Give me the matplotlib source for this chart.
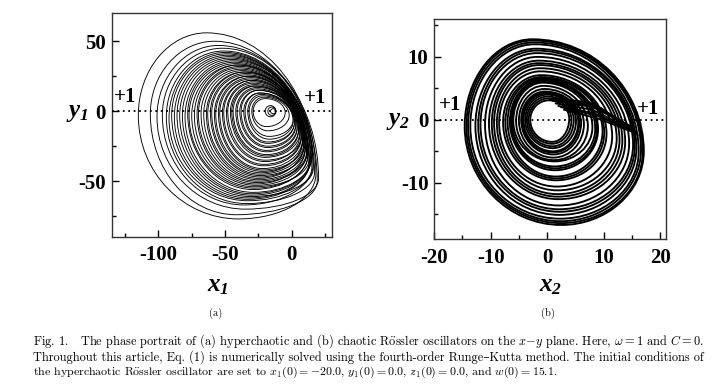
import matplotlib
matplotlib.use('Agg')
import matplotlib.pyplot as plt
from matplotlib.path import Path
from matplotlib.patches import PathPatch
from matplotlib.ticker import MultipleLocator
from matplotlib.font_manager import FontProperties

plt.rcParams['mathtext.fontset'] = 'custom'
plt.rcParams['mathtext.it'] = 'Liberation Serif:italic:bold'
plt.rcParams['mathtext.rm'] = 'Liberation Serif:italic:bold'
plt.rcParams['mathtext.bf'] = 'Liberation Serif:italic:bold'
plt.rcParams['axes.unicode_minus'] = False

# ---------------- data: panel (a) loops (extreme points) ----------------
a_left_x = [-115, -106, -101, -97, -94, -92, -90, -88, -86, -84, -82, -80, -78, -77, -75, -73,
            -71, -70, -68, -66, -64, -63, -61, -60, -58, -57, -55, -54, -52, -51, -49, -48,
            -46, -45, -44, -42, -41, -39, -38, -36, -35, -33, -32, -30, -29, -20, -18, -16]
a_left_y = [-3, -2, -4, -3, -4, -5, -3, -4, -3, -3, -3, -4, -2, -3, -3, -3,
            -2, -2, -2, -2, -2, -2, -1, -1, -2, -2, -1, -1, -1, -1, -1, 0,
            0, 0, 0, 0, 0, 0, 0, 0, 0, 0, 0, 0, 0, 0, 0, 0]
a_top_x = [-64, -58, -55, -52, -51, -50, -49, -48, -47, -46, -45, -44, -43, -42, -41, -40,
           -39, -39, -38, -37, -36, -35, -34, -34, -33, -32, -31, -31, -30, -30, -29, -29,
           -28, -28, -27, -26, -26, -25, -25, -24, -24, -23, -22, -21, -20, -16, -15, -14]
a_top_y = [56, 50, 47, 45, 43, 42, 41, 40, 39, 38, 37, 36, 35, 34, 33, 33,
           32, 31, 30, 29, 28, 28, 27, 26, 25, 25, 24, 23, 22, 22, 21, 20,
           19, 18, 18, 17, 16, 15, 15, 13, 13, 12, 11, 10, 9, 4, 3, 1.8]
a_right_x = [18, 19, 20, 16, 17, 15, 13, 14, 16, 13, 14, 15, 12, 12, 13, 11,
             10, 12, 11, 10, 9, 9, 10, 10, 8, 8, 9, 8, 7, 7, 6, 7,
             6, 5, 5, 4, 4, 3, 3, 2, 2, 1, 1, -2, -5, -12, -12, -12]
a_right_y = [-45, -50, -48, -38, -44, -40, -37, -35, -41, -36, -34, -33, -31, -32, -34, -30,
             -27, -28, -29, -27, -24, -25, -26, -22, -21, -22, -23, -20, -19, -18, -17, -18,
             -15, -14, -13, -12, -11, -10, -9, -8, -8, -7, -6, -3, -1, 0, 0, 0]
a_bot_x = [-40, -42, -35, -36, -34, -33, -33, -32, -31, -30, -30, -29, -29, -28, -28, -27,
           -27, -26, -26, -25, -25, -24, -24, -24, -23, -22, -22, -22, -21, -21, -20, -20,
           -20, -19, -19, -19, -19, -18, -18, -18, -18, -17, -17, -18, -19, -16, -15, -14]
a_bot_y = [-77, -74, -70, -67, -66, -64, -63, -62, -61, -60, -59, -58, -56, -55, -54, -53,
           -52, -51, -50, -49, -48, -47, -46, -45, -44, -43, -42, -41, -39, -38, -36, -35,
           -33, -32, -31, -29, -28, -26, -25, -23, -22, -20, -18, -14, -11, -4, -3, -1.8]

# ---------------- data: panel (b) loops ----------------
b_left_x = [-14.6, -14.3, -14.0, -13.6, -12.7, -12.2, -11.8, -11.0, -10.3, -9.8,
            -9.4, -8.9, -8.5, -7.8, -7.4, -7.0, -6.6, -6.4, -6.2, -6.0, -5.5, -5.0,
            -4.6, -4.4, -4.2, -3.9, -3.6, -3.3, -3.0]
b_left_y = [-1, -1, -1, -1, -1, -0.9, -0.8, -0.8, -0.6, -0.6,
            -0.5, -0.5, -0.5, -0.4, -0.4, -0.3, -0.3, -0.3, -0.3, -0.2, -0.2, -0.1,
            0, 0, 0, 0, 0, 0, 0]
b_top_x = [-2.6, -2.5, -2.3, -2.2, -2.0, -1.9, -1.8, -1.7, -1.5, -1.5,
           -1.4, -1.3, -1.2, -1.1, -1.0, -1.0, -0.9, -0.9, -0.8, -0.8, -0.7, -0.5,
           -0.4, -0.3, -0.2, 0.0, 0.1, 0.2, 0.3]
b_top_y = [12.8, 12.6, 12.3, 12.0, 11.3, 11.0, 10.6, 10.0, 9.4, 9.0,
           8.7, 8.2, 7.7, 7.1, 6.8, 6.6, 6.4, 6.3, 6.1, 5.9, 5.4, 4.9,
           4.5, 4.4, 4.2, 4.0, 3.7, 3.4, 3.1]
b_right_x = [17.1, 16.9, 16.6, 16.2, 15.8, 15.5, 15.2, 14.5, 13.8, 13.3,
             12.8, 12.3, 11.5, 10.5, 10.1, 9.8, 9.0, 8.8, 8.5, 8.0, 7.2, 6.5,
             6.0, 5.7, 5.5, 5.1, 4.7, 4.3, 3.9]
b_right_y = [-5.0, -5.2, -4.8, -5.0, -4.5, -4.2, -4.0, -3.8, -3.5, -3.3,
             -3.2, -3.0, -2.6, -2.2, -2.0, -1.8, -1.5, -1.5, -1.4, -1.2, -1.0, -0.7,
             -0.5, -0.4, -0.4, -0.2, 0.0, 0.0, 0.2]
b_bot_x = [2.5, 2.5, 2.4, 2.3, 2.2, 2.2, 2.1, 2.0, 2.0, 1.9,
           1.8, 1.8, 1.7, 1.6, 1.6, 1.5, 1.4, 1.4, 1.3, 1.3, 1.2, 1.1,
           1.1, 1.0, 1.0, 1.0, 1.0, 0.9, 0.9]
b_bot_y = [-16.7, -16.4, -16.1, -15.7, -15.1, -14.6, -14.2, -13.6, -12.6, -12.2,
           -11.8, -11.2, -10.6, -9.6, -9.3, -9.0, -8.0, -7.7, -7.4, -6.6, -6.4, -6.0,
           -5.5, -5.2, -5.0, -4.5, -4.2, -3.8, -3.5]

# reinjection (fold) curves of panel (b): start, middle, end points
fold_start_x = [1.0, 1.5, 2.0, 2.5, 1.2, 3.0, 0.5, 3.5, 2.2]
fold_start_y = [3.0, 2.6, 2.2, 2.0, 3.4, 1.6, 3.3, 2.6, 3.1]
fold_mid_x = [8.0, 8.0, 8.5, 9.0, 7.5, 9.0, 7.0, 9.5, 8.5]
fold_mid_y = [2.2, 1.6, 1.0, 0.6, 2.8, 0.2, 2.5, 1.9, 2.4]
fold_end_x = [15.3, 15.5, 15.6, 15.8, 15.0, 15.6, 14.8, 16.0, 15.2]
fold_end_y = [-1.5, -1.8, -2.0, -2.2, -1.2, -2.1, -1.0, -2.4, -1.4]

# axes ticks
a_xticks = [-100, -50, 0]
a_yticks = [-50, 0, 50]
b_xticks = [-20, -10, 0, 10, 20]
b_yticks = [-10, 0, 10]

caption_lines = [
    r"Fig. 1.   The phase portrait of (a) hyperchaotic and (b) chaotic R$\ddot{\rm o}$ssler oscillators on the $x{-}y$ plane. Here, $\omega = 1$ and $C = 0$.",
    "Throughout this article, Eq. (1) is numerically solved using the fourth-order Runge–Kutta method. The initial conditions of",
    r"the hyperchaotic R$\ddot{\rm o}$ssler oscillator are set to $x_1(0) = -20.0$, $y_1(0) = 0.0$, $z_1(0) = 0.0$, and $w(0) = 15.1$.",
]
caption_sizes = [8.9, 8.88, 8.6]


def loop_path(lx, ly, tx, ty, rx, ry, bx, by, k=0.55):
    verts = [(lx, ly),
             (lx, ly + k * (ty - ly)), (tx - k * (tx - lx), ty), (tx, ty),
             (tx + k * (rx - tx), ty), (rx, ry + k * (ty - ry)), (rx, ry),
             (rx, ry - k * (ry - by)), (bx + k * (rx - bx), by), (bx, by),
             (bx - k * (bx - lx), by), (lx, ly - k * (ly - by)), (lx, ly)]
    codes = [Path.MOVETO] + [Path.CURVE4] * 12
    return Path(verts, codes)


fig = plt.figure(figsize=(7.2, 3.9), dpi=100)
ax1 = fig.add_axes([0.155, 0.392, 0.306, 0.574])
ax2 = fig.add_axes([0.603, 0.386, 0.3218, 0.565])

for i in range(len(a_left_x)):
    p = loop_path(a_left_x[i], a_left_y[i], a_top_x[i], a_top_y[i],
                  a_right_x[i], a_right_y[i], a_bot_x[i], a_bot_y[i])
    ax1.add_patch(PathPatch(p, fill=False, ec='black', lw=0.65))

for i in range(len(b_left_x)):
    p = loop_path(b_left_x[i], b_left_y[i], b_top_x[i], b_top_y[i],
                  b_right_x[i], b_right_y[i], b_bot_x[i], b_bot_y[i])
    ax2.add_patch(PathPatch(p, fill=False, ec='black', lw=1.35))

for i in range(len(fold_start_x)):
    ax2.plot([fold_start_x[i], fold_mid_x[i], fold_end_x[i]],
             [fold_start_y[i], fold_mid_y[i], fold_end_y[i]], color='black', lw=1.3)

ax1.set_xlim(-135, 30)
ax1.set_ylim(-90, 70)
ax2.set_xlim(-20, 21)
ax2.set_ylim(-19, 16)

tick_fp = FontProperties(family='Liberation Serif', weight='bold', size=15)
for ax, xt, yt, xm, ym in [(ax1, a_xticks, a_yticks, 25, 25), (ax2, b_xticks, b_yticks, 5, 5)]:
    ax.axhline(0, color='black', lw=1.3, ls=(0, (1, 2)), zorder=5)
    ax.set_xticks(xt)
    ax.set_yticks(yt)
    ax.xaxis.set_minor_locator(MultipleLocator(xm))
    ax.yaxis.set_minor_locator(MultipleLocator(ym))
    ax.tick_params(which='major', direction='in', length=5, width=1)
    ax.tick_params(axis='x', which='major', pad=6)
    ax.tick_params(axis='y', which='major', pad=4)
    ax.tick_params(which='minor', direction='in', length=3, width=1)
    ax.tick_params(top=False, right=False, which='both')
    for lab in ax.get_xticklabels() + ax.get_yticklabels():
        lab.set_fontproperties(tick_fp)
    for s in ax.spines.values():
        s.set_linewidth(1.0)
        s.set_color('#333333')

# axis labels
fig.text(0.303, 0.269, r'$x_1$', fontsize=18, ha='center', va='center')
fig.text(0.107, 0.713, r'$y_1$', fontsize=18, ha='center', va='center')
fig.text(0.764, 0.269, r'$x_2$', fontsize=18, ha='center', va='center')
fig.text(0.553, 0.692, r'$y_2$', fontsize=18, ha='center', va='center')

# +1 markers
plus_font = dict(family='Liberation Serif', weight='bold', size=15, ha='center', va='center')
fig.text(0.174, 0.751, '+1', **plus_font)
fig.text(0.4375, 0.749, '+1', **plus_font)
fig.text(0.625, 0.731, '+1', **plus_font)
fig.text(0.900, 0.720, '+1', **plus_font)

cap_family = ['cmr10', 'DejaVu Serif']
fig.text(0.299, 0.197, '(a)', family=cap_family, size=7.5, ha='center', va='center', math_fontfamily='cm')
fig.text(0.761, 0.197, '(b)', family=cap_family, size=7.5, ha='center', va='center', math_fontfamily='cm')

for yy, line, sz in zip([341.6, 357.2, 372.4], caption_lines, caption_sizes):
    fig.text(33 / 720, 1 - yy / 390, line, family=cap_family, size=sz,
             ha='left', va='center', math_fontfamily='cm')

fig.savefig('out.png', dpi=100)
